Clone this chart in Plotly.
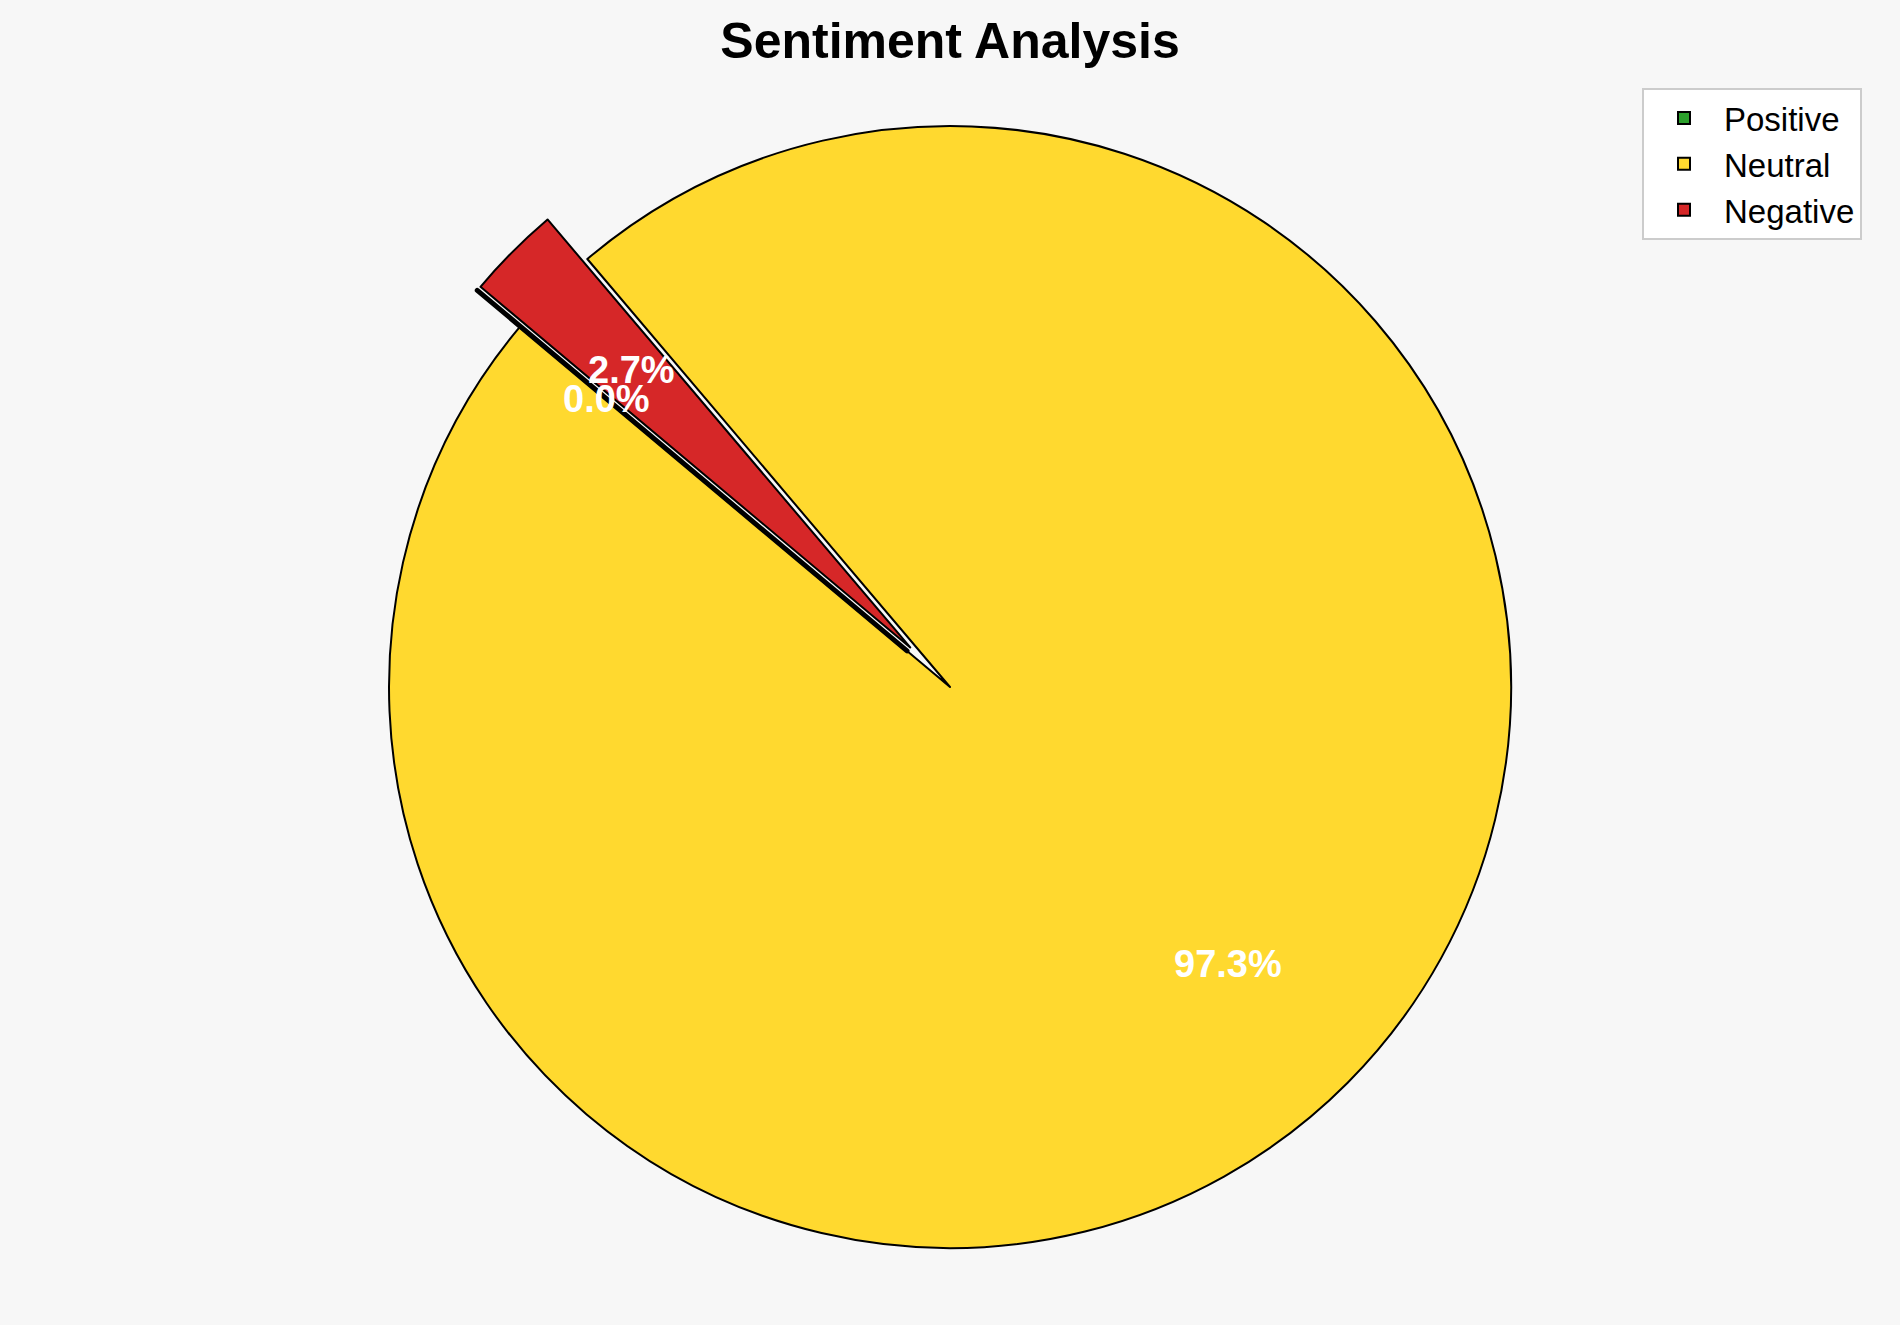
import math
import plotly.graph_objects as go

labels = ["Positive", "Neutral", "Negative"]
values = [0.0, 97.3, 2.7]
colors = ["#2ca02c", "#ffd92f", "#d62728"]
explode = [0.1, 0.0, 0.1]
start_angle = 140  # degrees, counterclockwise from 3 o'clock (matplotlib style)
pct_distance = 0.7

W, H = 1900, 1325
BG = "#f7f7f7"
FONT = "Liberation Sans, Arial, sans-serif"
# pie geometry (pixels)
CX, CY, R = 950, 687, 561
max_pull = max(explode)
half = R * (1 + max_pull)
dom_x = [(CX - half) / W, (CX + half) / W]
dom_y = [1 - (CY + half) / H, 1 - (CY - half) / H]

common = dict(
    labels=labels,
    values=values,
    sort=False,
    direction="counterclockwise",
    rotation=-(start_angle - 90),
    pull=explode,
    textinfo="none",
    domain=dict(x=dom_x, y=dom_y),
)

fig = go.Figure()
fig.add_trace(go.Pie(
    marker=dict(colors=colors, line=dict(color="black", width=2)),
    hoverinfo="label+percent",
    showlegend=True,
    **common,
))
# shadow-like dark edge of the zero-width (exploded) wedge
fig.add_trace(go.Pie(
    marker=dict(colors=["rgba(0,0,0,0)"] * 3,
                line=dict(color="black", width=[5, 0, 0])),
    hoverinfo="skip",
    showlegend=False,
    **common,
))

# percentage labels placed like matplotlib's autopct
total = sum(values)
cum = 0.0
annotations = []
for lab, v, ex in zip(labels, values, explode):
    frac = v / total
    t1 = start_angle + 360 * cum
    t2 = t1 + 360 * frac
    mid = math.radians((t1 + t2) / 2)
    r = (pct_distance + ex) * R
    px = CX + r * math.cos(mid)
    py = CY - r * math.sin(mid)
    annotations.append(dict(
        x=px / W, y=1 - py / H, xref="paper", yref="paper",
        text=f"<b>{frac*100:.1f}%</b>", showarrow=False,
        font=dict(family=FONT, size=38, color="white"),
        xanchor="center", yanchor="middle",
    ))
    cum += frac

fig.update_layout(
    width=W, height=H,
    margin=dict(l=0, r=0, t=0, b=0),
    paper_bgcolor=BG,
    plot_bgcolor=BG,
    title=dict(
        text="<b>Sentiment Analysis</b>",
        x=0.5, xanchor="center", y=1 - 40 / H, yanchor="middle",
        font=dict(family=FONT, size=50, color="black"),
    ),
    legend=dict(
        x=1862 / W, xanchor="right", y=1 - 88 / H, yanchor="top",
        bgcolor="white", bordercolor="#cccccc", borderwidth=2,
        font=dict(family=FONT, size=33, color="black"),
        traceorder="normal",
        itemwidth=70,
        tracegroupgap=8,
    ),
    annotations=annotations,
)

fig.write_html(
    "out.html",
    config={"displayModeBar": False},
    post_script="document.body.style.margin='0';document.body.style.background='%s';" % BG,
)
